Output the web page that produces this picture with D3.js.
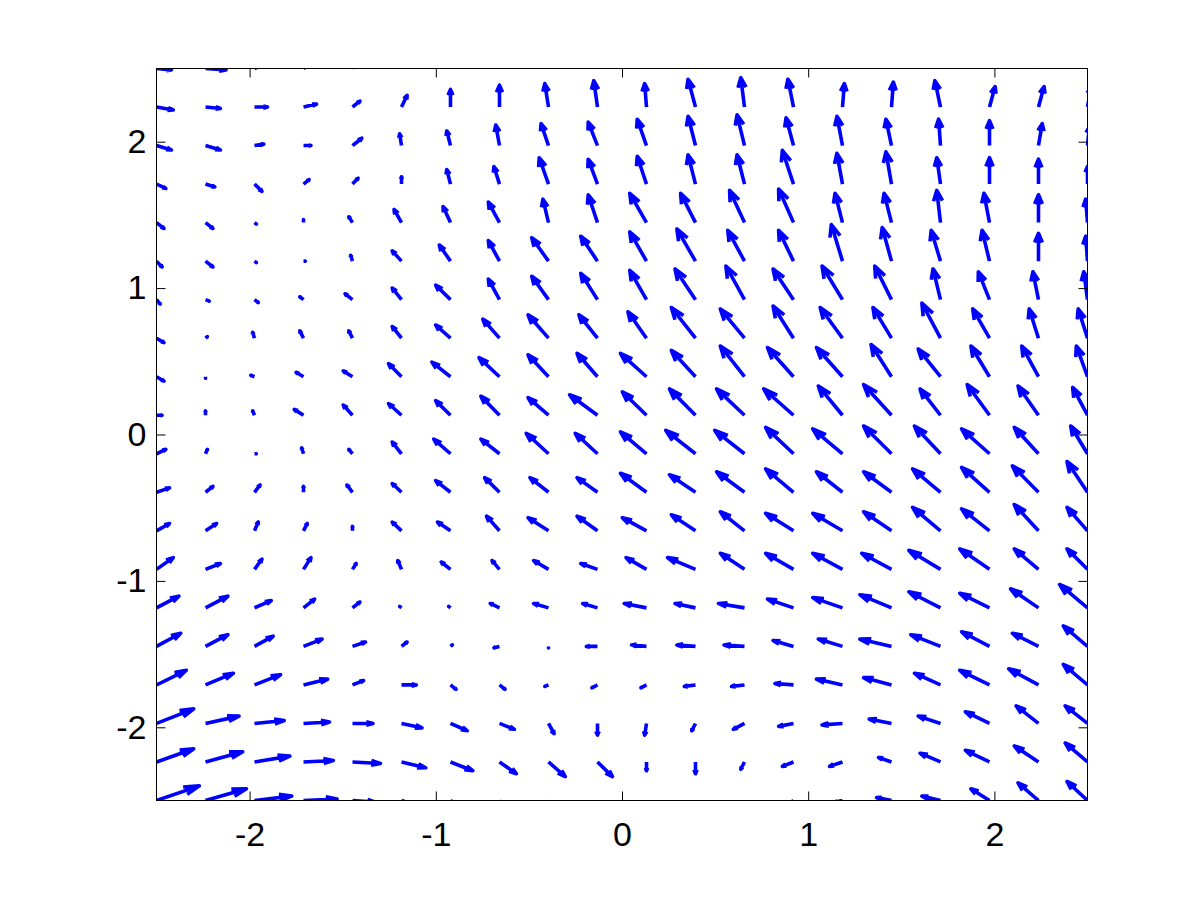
<!DOCTYPE html>
<html><head><meta charset="utf-8">
<script src="https://cdn.jsdelivr.net/npm/d3@7"></script>
<style>body{margin:0;background:#fff}svg{display:block}</style>
</head><body>
<svg id="c" width="1201" height="900"></svg>
<script>
// grid (linspace(-2.5, 2.5, 20))
const xGrid = [-2.5,-2.2368,-1.9737,-1.7105,-1.4474,-1.1842,-0.9211,-0.6579,-0.3947,-0.1316,0.1316,0.3947,0.6579,0.9211,1.1842,1.4474,1.7105,1.9737,2.2368,2.5];
// rows listed from top (y = 2.5) to bottom (y = -2.5)
const yGrid = [2.5,2.2368,1.9737,1.7105,1.4474,1.1842,0.9211,0.6579,0.3947,0.1316,-0.1316,-0.3947,-0.6579,-0.9211,-1.1842,-1.4474,-1.7105,-1.9737,-2.2368,-2.5];
// vector components (hundredths of axis units, as displayed)
const U = [
[8,11,5,5,4,3,1,0,-1,-1,-1,-2,-1,-2,1,1,-2,3,4,3],
[9,8,7,7,4,3,0,0,-2,-2,-1,-4,-2,-3,1,1,-3,3,3,2],
[8,8,5,4,5,-1,-2,-2,-4,-5,-5,-4,-4,-4,-3,-3,-1,0,2,1],
[5,5,4,3,3,0,-2,-3,-5,-5,-5,-4,-4,-6,-3,-3,-2,0,0,0],
[4,4,1,0,-2,-4,-4,-6,-3,-5,-9,-8,-8,-8,-4,-4,-2,-3,0,-1],
[3,4,1,1,-1,-5,-6,-6,-9,-9,-9,-10,-9,-8,-6,-5,-5,-4,0,-1],
[2,2,2,-2,-4,-5,-8,-6,-9,-9,-9,-11,-10,-11,-11,-9,-4,-6,-3,-2],
[4,1,-1,-2,-2,-5,-8,-9,-11,-10,-10,-13,-13,-11,-12,-10,-10,-9,-5,-5],
[4,0,-2,-4,-5,-7,-10,-11,-11,-11,-14,-13,-13,-14,-14,-11,-12,-10,-9,-6],
[3,0,-1,-5,-5,-7,-8,-10,-11,-15,-13,-14,-15,-16,-13,-15,-11,-12,-11,-8],
[5,1,1,-1,-2,-5,-9,-10,-12,-12,-14,-16,-16,-15,-16,-15,-14,-15,-13,-9],
[7,4,3,0,-3,-5,-8,-8,-10,-11,-14,-14,-15,-15,-14,-15,-15,-15,-14,-11],
[7,6,2,2,0,-5,-7,-7,-11,-11,-13,-13,-13,-15,-16,-15,-15,-15,-13,-11],
[9,8,4,4,2,-2,-5,-4,-8,-9,-11,-15,-13,-15,-16,-16,-17,-16,-13,-11],
[12,12,9,6,4,-1,-1,-5,-8,-8,-12,-11,-14,-14,-16,-17,-17,-16,-15,-15],
[13,12,10,10,7,3,1,-3,0,-6,-8,-10,-11,-11,-13,-17,-16,-15,-14,-13],
[16,15,14,13,6,8,3,3,-2,-3,-3,-6,-7,-10,-14,-15,-14,-16,-16,-13],
[20,18,16,14,11,11,9,8,3,0,-1,-2,-6,-8,-11,-12,-12,-13,-12,-12],
[20,20,19,16,15,13,12,9,9,8,0,0,-2,-6,-7,-7,-11,-13,-13,-12],
[23,22,20,18,12,12,10,6,4,2,0,1,-2,-3,-4,-8,-10,-10,-11,-11]
];
const V = [
[-1,-1,3,4,7,8,12,15,16,17,16,18,20,18,16,16,17,14,13,13],
[-2,-1,0,2,4,8,12,15,16,18,16,19,20,19,16,17,18,14,14,14],
[-3,-3,1,0,5,8,10,14,15,16,18,20,21,19,20,18,18,17,15,13],
[-3,-2,-5,3,4,5,10,12,18,17,19,20,20,23,21,22,18,18,17,12],
[-4,-4,-1,2,4,9,11,14,16,19,20,20,22,23,20,20,22,20,19,16],
[-4,-4,-1,0,4,7,11,14,16,17,20,22,21,21,25,23,21,21,19,17],
[-3,-1,-2,2,4,8,10,14,16,18,20,21,23,21,23,23,21,19,19,19],
[-3,1,4,5,5,8,9,13,16,16,18,21,20,22,21,21,24,20,20,20],
[-3,-1,1,3,4,9,10,13,15,16,16,18,21,20,20,22,19,21,21,21],
[0,3,3,4,7,8,10,13,12,14,16,18,18,18,20,21,18,21,20,19],
[3,3,0,4,3,8,10,10,14,14,15,16,16,18,17,19,19,17,18,19],
[3,4,5,4,5,6,8,10,10,10,13,12,14,16,14,14,16,17,18,21],
[5,5,6,5,3,6,6,10,9,10,9,11,13,12,12,13,16,15,18,16],
[8,4,7,8,4,6,5,6,6,4,8,8,11,11,11,11,13,14,14,14],
[8,8,5,6,4,1,1,3,3,3,3,3,3,6,7,9,11,10,13,16],
[9,8,7,5,3,3,1,-1,-1,0,1,1,1,4,5,5,8,10,9,14],
[10,8,7,4,3,0,-3,-3,-1,-2,-2,-1,-1,1,4,5,8,10,11,14],
[10,5,2,1,0,-3,-5,-4,-7,-8,-8,-5,-4,-2,-1,3,5,8,12,12],
[9,7,4,1,-1,-4,-6,-8,-10,-10,-6,-8,-5,-3,-3,3,6,8,11,13],
[10,8,3,1,-1,-5,-8,-11,-12,-12,-7,-7,-7,-3,-1,2,3,8,12,13]
];
const xTicks = [-2,-1,0,1,2];
const yTicks = [-2,-1,0,1,2];
const vecUnit = 0.01;

const svg = d3.select("#c");
const x = d3.scaleLinear().domain([-2.5,2.5]).range([156.5,1087.5]);
const y = d3.scaleLinear().domain([-2.5,2.5]).range([800.5,68.5]);

svg.append("defs").append("clipPath").attr("id","clip")
  .append("rect").attr("x",x(-2.5)).attr("y",y(2.5))
  .attr("width",x(2.5)-x(-2.5)).attr("height",y(-2.5)-y(2.5));

const alpha = 0.33, beta = 0.33;
const arrows = [];
yGrid.forEach((yy,r)=>xGrid.forEach((xx,c)=>{
  arrows.push({x:xx,y:yy,u:U[r][c]*vecUnit,v:V[r][c]*vecUnit});
}));
const pathOf = d=>{
  const tx=d.x+d.u, ty=d.y+d.v, u=d.u, v=d.v;
  const h1x = tx-alpha*(u+beta*v), h1y = ty-alpha*(v-beta*u);
  const h2x = tx-alpha*(u-beta*v), h2y = ty-alpha*(v+beta*u);
  return `M${x(d.x)},${y(d.y)}L${x(tx)},${y(ty)}M${x(h1x)},${y(h1y)}L${x(tx)},${y(ty)}L${x(h2x)},${y(h2y)}`;
};
svg.append("g").attr("clip-path","url(#clip)")
  .selectAll("path").data(arrows).join("path")
  .attr("d",pathOf).attr("fill","none").attr("stroke","#0000ff")
  .attr("stroke-width",3.6).attr("stroke-linejoin","round").attr("stroke-linecap","butt");

const font = "'Liberation Sans', Arial, Helvetica, sans-serif";
const styleAxis = g=>{
  g.select(".domain").remove();
  g.selectAll(".tick line").attr("stroke","#000").attr("stroke-width",1);
  g.selectAll("text").attr("font-family",font).attr("font-size",34).attr("fill","#000");
};
svg.append("g").attr("transform",`translate(0,${y(-2.5)})`)
  .call(d3.axisBottom(x).tickValues(xTicks).tickSize(-9).tickPadding(21).tickFormat(d3.format("d"))).call(styleAxis);
svg.append("g").attr("transform",`translate(0,${y(2.5)})`)
  .call(d3.axisTop(x).tickValues(xTicks).tickSize(-9).tickFormat("")).call(styleAxis);
svg.append("g").attr("transform",`translate(${x(-2.5)},0)`)
  .call(d3.axisLeft(y).tickValues(yTicks).tickSize(-9).tickPadding(10).tickFormat(d3.format("d"))).call(styleAxis);
svg.append("g").attr("transform",`translate(${x(2.5)},0)`)
  .call(d3.axisRight(y).tickValues(yTicks).tickSize(-9).tickFormat("")).call(styleAxis);
svg.selectAll("text").text(function(){return this.textContent.replace("−","-");});

svg.append("rect").attr("x",x(-2.5)).attr("y",y(2.5))
  .attr("width",x(2.5)-x(-2.5)).attr("height",y(-2.5)-y(2.5))
  .attr("fill","none").attr("stroke","#000").attr("stroke-width",1);
</script>
</body></html>
